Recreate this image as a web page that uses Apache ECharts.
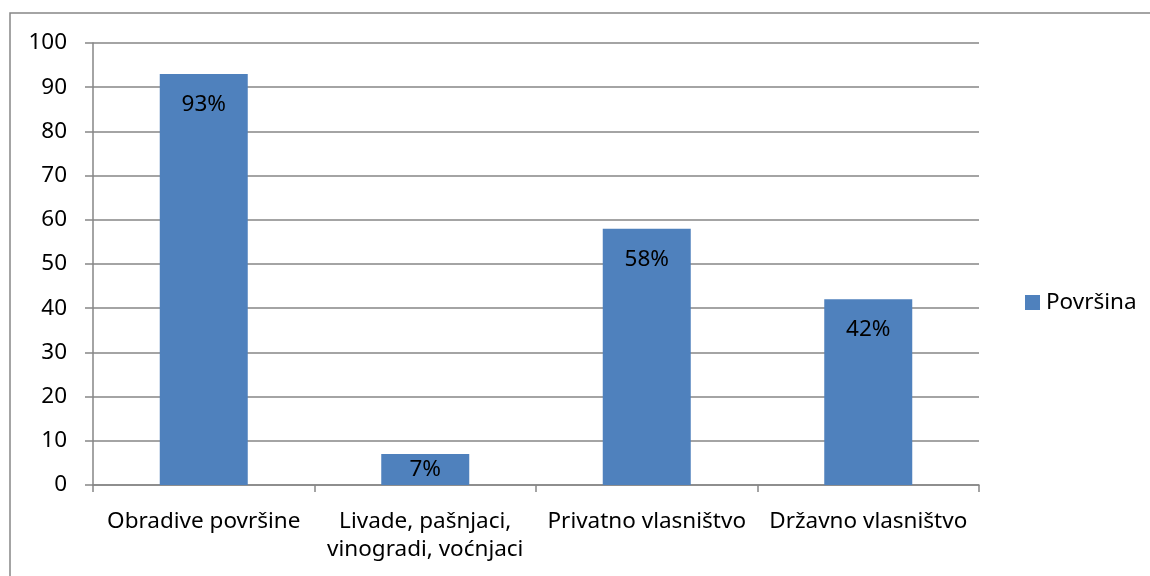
<!DOCTYPE html>
<html>
<head>
<meta charset="utf-8">
<style>
  html, body { margin: 0; padding: 0; background: #fff; }
  #chart { width: 1150px; height: 576px; }
</style>
<script src="https://cdn.jsdelivr.net/npm/echarts@6/dist/echarts.min.js"></script>
</head>
<body>
<div id="chart"></div>
<script>
(function(){
	var categories = ['Obradive površine', 'Livade, pašnjaci,\nvinogradi, voćnjaci', 'Privatno vlasništvo', 'Državno vlasništvo'];
	var values = [93, 7, 58, 42];
	var seriesName = 'Površina';
	var yTicks = [0, 10, 20, 30, 40, 50, 60, 70, 80, 90, 100];

	var font = '"Noto Sans", "Open Sans", sans-serif';
	var gray = '#868686';
	var fs = 22.5;

	var chart = echarts.init(document.getElementById('chart'));

	var barData = values.map(function (v) {
		var item = { value: v };
		// short bar: label sits in the middle, like the original
		if (v < 15) {
			item.label = { position: 'inside' };
		}
		return item;
	});

	var option = {
		animation: false,
		backgroundColor: '#fff',
		graphic: [{
			type: 'rect',
			shape: { x: 10, y: 13, width: 1200, height: 620 },
			style: { fill: 'none', stroke: gray, lineWidth: 1.5 },
			silent: true
		}],
		legend: {
			data: [seriesName],
			left: 1020,
			top: 286,
			itemWidth: 15,
			itemHeight: 15,
			itemGap: 6,
			textStyle: { fontFamily: font, fontSize: fs, color: '#000', padding: [0, 0, 0, 1] },
			icon: 'rect'
		},
		grid: { left: 93, right: 171, top: 43, bottom: 91 },
		xAxis: {
			type: 'category',
			data: categories,
			boundaryGap: true,
			axisLine: { lineStyle: { color: gray, width: 1.5 } },
			axisTick: { show: true, length: 7, lineStyle: { color: gray, width: 1.5 } },
			axisLabel: {
				fontFamily: font, fontSize: fs, color: '#000',
				margin: 23, lineHeight: 28, interval: 0
			}
		},
		yAxis: {
			type: 'value',
			min: yTicks[0],
			max: yTicks[yTicks.length - 1],
			interval: 10,
			axisLine: { show: true, lineStyle: { color: gray, width: 1.5 } },
			axisTick: { show: true, length: 8, lineStyle: { color: gray, width: 1.5 } },
			splitLine: { lineStyle: { color: gray, width: 1.5 } },
			axisLabel: { fontFamily: font, fontSize: fs, color: '#000', margin: 26 }
		},
		series: [{
			name: seriesName,
			type: 'bar',
			data: barData,
			barWidth: 88,
			itemStyle: { color: '#4F81BD' },
			label: {
				show: true,
				position: 'insideTop',
				distance: 19,
				formatter: '{c}%',
				fontFamily: font,
				fontSize: fs,
				color: '#000'
			}
		}]
	};

	chart.setOption(option);
})();
</script>
</body>
</html>
